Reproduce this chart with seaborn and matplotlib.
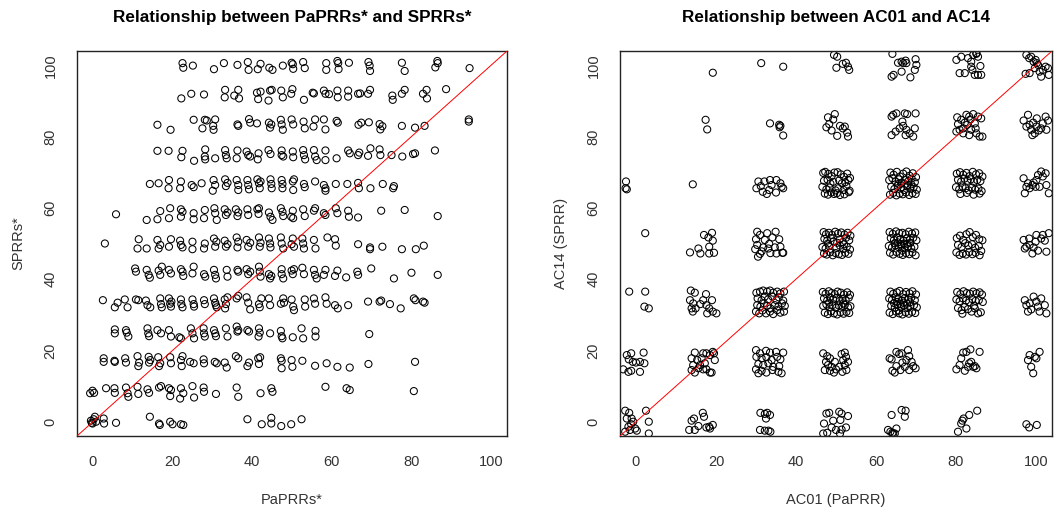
"""
plot.py

Two scatter plots of review scores: PaPRRs* vs SPRRs* and AC01 vs AC14,
each with a y = x reference line.
"""

import matplotlib
matplotlib.use("Agg")
import matplotlib.pyplot as plt
import seaborn as sns


# --------------------------------------------------
# Data: left panel, one row of points per SPRRs* level
# --------------------------------------------------

paprr_100 = [22.5, 22.7, 25.1, 30.4, 32.9, 36.3, 38.9, 39.1, 41.4, 42.1, 44.3, 45.1, 47.7, 49.9, 50.2, 50.3, 52.8,
             53.2, 58.6, 58.6, 61.4, 61.6, 61.7, 64.3, 69.2, 69.5, 69.6, 77.6, 78.3, 86.0, 86.5, 86.6, 94.6]
sprr_100 = [100.6, 99.3, 99.9, 98.9, 100.6, 100.1, 100.9, 98.7, 98.9, 100.4, 99.3, 98.7, 99.9, 100.7, 100.3, 99.0,
            100.9, 99.2, 100.6, 98.7, 101.2, 100.6, 98.9, 100.7, 100.9, 99.9, 98.4, 100.7, 98.4, 99.4, 101.2, 100.6, 99.2]

paprr_92 = [22.2, 24.7, 27.9, 33.2, 33.1, 35.5, 36.5, 36.7, 41.2, 41.5, 42.1, 44.1, 44.5, 44.9, 47.3, 47.7, 49.8, 50.1,
            53.0, 55.2, 55.5, 58.0, 58.4, 59.3, 61.4, 61.5, 64.1, 64.1, 66.6, 67.1, 69.1, 69.6, 75.2, 75.3, 77.6, 78.3,
            82.9, 83.8, 83.9, 88.7]
sprr_92 = [90.7, 92.0, 91.8, 93.1, 91.0, 91.5, 93.1, 90.7, 92.3, 90.5, 92.6, 90.1, 92.9, 93.1, 92.9, 91.0, 92.0, 93.3,
           90.3, 92.3, 92.1, 92.9, 92.0, 91.9, 92.9, 91.0, 92.9, 91.2, 92.0, 92.1, 92.0, 93.1, 91.5, 90.3, 92.0, 93.1,
           92.0, 93.1, 90.7, 93.3]

paprr_83 = [16.2, 19.5, 25.3, 27.5, 28.1, 28.6, 30.2, 30.3, 30.7, 36.3, 36.5, 39.2, 39.5, 41.2, 44.2, 44.5, 44.8, 47.2,
            47.4, 47.7, 49.9, 50.3, 52.9, 53.2, 55.4, 55.8, 58.0, 58.4, 61.2, 61.5, 66.7, 67.4, 69.3, 72.0, 72.2, 72.7,
            77.6, 80.9, 83.3, 94.4, 94.4]
sprr_83 = [83.3, 81.9, 84.7, 82.3, 84.7, 84.5, 83.0, 81.9, 84.8, 83.4, 83.0, 84.9, 83.9, 83.7, 83.9, 82.5, 83.4, 84.7,
           83.4, 81.9, 84.8, 83.4, 84.2, 82.3, 82.8, 84.8, 84.8, 82.0, 84.4, 83.9, 83.3, 83.9, 84.0, 83.5, 82.0, 82.9,
           83.0, 82.5, 83.0, 84.8, 84.2]

paprr_75 = [16.2, 19.0, 22.5, 22.2, 25.4, 28.2, 28.1, 28.2, 30.7, 33.2, 33.4, 33.6, 36.3, 36.1, 38.6, 39.0, 39.5, 41.6,
            41.4, 44.1, 44.6, 47.4, 47.4, 47.8, 50.2, 50.3, 52.8, 53.0, 53.3, 55.5, 55.8, 56.2, 58.4, 58.4, 61.2, 64.1,
            64.5, 66.6, 66.9, 69.1, 69.7, 72.0, 72.2, 75.0, 77.7, 80.4, 80.9, 85.9]
sprr_75 = [76.0, 76.0, 76.0, 74.2, 73.2, 76.4, 74.4, 73.6, 73.9, 76.2, 74.8, 73.9, 76.1, 73.9, 75.8, 74.8, 74.4, 75.3,
           73.6, 76.2, 75.1, 76.1, 74.8, 74.4, 75.8, 74.2, 76.2, 74.8, 73.6, 76.2, 74.4, 73.4, 76.1, 73.4, 73.9, 76.1,
           75.3, 74.8, 75.5, 74.6, 76.7, 76.4, 74.8, 74.8, 74.4, 75.1, 75.3, 76.1]

paprr_67 = [14.3, 16.5, 19.1, 19.0, 22.1, 21.9, 24.8, 25.3, 27.3, 30.3, 30.1, 30.7, 33.2, 33.4, 33.8, 36.1, 36.5, 36.5,
            38.8, 39.0, 39.2, 41.3, 41.7, 42.1, 41.9, 44.6, 44.8, 44.9, 47.4, 47.6, 47.6, 50.2, 50.3, 50.5, 53.0, 53.2,
            55.8, 58.0, 58.4, 58.4, 61.0, 63.9, 66.6, 66.8, 69.7, 72.8, 75.6, 75.4]
sprr_67 = [66.7, 66.9, 67.8, 65.5, 67.4, 65.5, 66.4, 65.8, 66.9, 67.8, 64.8, 66.4, 68.0, 66.1, 67.0, 67.8, 66.4, 65.0,
           67.8, 66.4, 65.2, 68.0, 66.9, 67.4, 65.5, 68.0, 66.7, 65.5, 67.8, 66.7, 65.5, 67.4, 65.0, 68.0, 66.7, 65.8,
           67.4, 66.4, 65.5, 64.8, 66.7, 66.7, 67.0, 65.5, 65.5, 66.7, 66.1, 65.5]

paprr_58 = [5.8, 13.5, 16.2, 16.9, 19.1, 19.4, 22.1, 22.1, 22.5, 25.3, 25.3, 28.1, 27.9, 30.5, 30.7, 31.1, 33.1, 33.4,
            33.8, 35.9, 36.3, 36.5, 38.8, 39.0, 41.3, 41.6, 41.7, 44.2, 44.6, 45.1, 47.2, 47.6, 47.8, 49.8, 50.2, 50.3,
            52.8, 53.2, 55.5, 55.8, 58.0, 58.4, 61.0, 61.4, 64.1, 64.3, 66.6, 72.4, 78.3, 86.6]
sprr_58 = [58.2, 56.6, 56.8, 59.1, 57.1, 59.9, 59.6, 57.5, 58.9, 58.5, 56.8, 59.4, 57.1, 59.9, 58.5, 56.6, 59.6, 58.0,
           58.7, 59.6, 57.7, 58.7, 59.6, 58.0, 59.6, 58.3, 59.9, 58.7, 57.5, 56.6, 59.9, 58.9, 57.7, 57.5, 59.2, 57.1,
           59.6, 57.7, 59.2, 59.9, 58.5, 58.0, 59.9, 58.5, 59.2, 57.5, 57.3, 59.2, 59.4, 57.7]

paprr_50 = [3.0, 11.2, 11.5, 13.5, 16.2, 16.5, 16.9, 19.1, 19.6, 22.1, 22.5, 21.9, 25.0, 25.0, 27.9, 28.1, 30.4, 30.7,
            31.0, 33.1, 33.4, 33.8, 36.1, 36.3, 36.5, 38.6, 39.0, 39.5, 41.7, 41.9, 42.1, 44.2, 44.5, 44.6, 47.2, 47.4,
            47.8, 49.9, 50.2, 50.5, 52.6, 52.8, 53.0, 55.5, 55.9, 58.9, 60.8, 61.0, 66.6, 69.6, 69.6, 72.7, 77.6, 81.1,
            83.1]
sprr_50 = [50.0, 48.6, 51.2, 48.6, 51.0, 48.6, 49.6, 49.1, 51.2, 49.6, 48.9, 50.8, 50.5, 48.4, 48.6, 50.0, 51.4, 49.1,
           50.5, 50.8, 49.1, 49.8, 51.7, 48.9, 50.5, 51.0, 49.1, 50.2, 51.7, 49.1, 50.2, 51.4, 50.0, 48.9, 51.7, 50.0,
           48.6, 49.8, 51.4, 49.1, 51.4, 50.0, 48.6, 51.0, 48.6, 51.7, 51.2, 49.4, 49.8, 48.9, 48.4, 49.1, 48.4, 48.4,
           49.4]

paprr_42 = [10.6, 10.8, 13.5, 14.0, 14.3, 16.5, 16.9, 17.3, 19.1, 19.6, 22.1, 22.5, 22.7, 25.3, 25.0, 27.9, 28.2, 30.4,
            30.7, 30.9, 33.6, 33.8, 36.3, 36.5, 38.6, 39.0, 39.5, 41.7, 41.9, 42.1, 44.2, 44.5, 44.8, 47.4, 47.4, 47.8,
            49.9, 50.2, 50.5, 52.6, 53.0, 55.5, 55.8, 56.2, 58.0, 58.4, 60.8, 61.4, 63.6, 66.4, 66.6, 69.9, 75.6, 80.0,
            86.6]
sprr_42 = [43.0, 42.1, 42.6, 41.2, 40.4, 42.4, 41.2, 43.5, 42.6, 41.6, 42.8, 42.1, 40.9, 43.5, 41.6, 41.4, 40.7, 42.6,
           41.2, 40.2, 42.6, 40.7, 42.6, 42.1, 42.8, 41.4, 42.1, 43.5, 42.1, 40.7, 41.4, 40.2, 40.9, 42.8, 41.4, 40.2,
           42.4, 41.4, 42.8, 43.2, 41.4, 42.6, 41.2, 40.2, 41.2, 42.6, 40.9, 42.4, 40.5, 42.1, 41.2, 43.0, 40.2, 41.8,
           41.2]

paprr_33 = [2.5, 5.5, 6.2, 8.0, 8.7, 10.8, 11.4, 13.3, 13.7, 14.4, 16.9, 17.1, 17.3, 19.1, 19.4, 19.6, 19.7, 22.1, 22.2,
            22.5, 25.0, 25.3, 25.4, 27.9, 28.1, 30.4, 30.7, 30.9, 31.1, 33.1, 33.4, 33.8, 33.2, 36.1, 36.5, 38.6, 39.0,
            39.5, 41.7, 41.9, 42.3, 44.2, 44.5, 47.2, 47.8, 48.0, 49.9, 50.3, 50.5, 53.2, 53.3, 55.5, 55.8, 58.4, 58.7,
            60.8, 61.5, 64.1, 69.1, 72.0, 72.4, 74.6, 77.3, 80.6, 81.0, 82.9, 83.3]
sprr_33 = [34.1, 32.1, 33.4, 34.3, 32.1, 34.3, 34.1, 34.0, 32.7, 32.1, 34.6, 33.0, 32.1, 34.6, 33.1, 32.3, 33.7, 34.3,
           33.0, 32.1, 34.3, 33.0, 32.3, 34.1, 33.0, 34.6, 33.4, 32.7, 32.1, 34.3, 33.0, 34.9, 31.8, 34.6, 35.3, 34.9,
           33.4, 31.5, 33.0, 32.1, 34.6, 34.6, 32.7, 33.1, 34.6, 33.4, 34.3, 32.3, 31.3, 34.3, 32.3, 34.6, 33.1, 34.9,
           33.1, 32.7, 31.8, 32.7, 33.7, 33.7, 34.0, 33.0, 31.8, 34.6, 34.1, 33.7, 33.4]

paprr_25 = [5.5, 5.5, 8.3, 8.5, 8.9, 13.7, 13.9, 14.1, 16.2, 17.1, 19.1, 19.6, 21.7, 22.1, 24.6, 25.0, 25.4, 27.8, 27.9,
            28.1, 30.4, 30.7, 30.9, 33.4, 33.8, 36.1, 36.3, 36.5, 38.8, 39.2, 41.7, 41.9, 41.6, 44.5, 47.2, 47.4, 47.6,
            50.2, 52.4, 52.8, 55.9, 55.9, 69.4]
sprr_25 = [25.9, 24.8, 25.7, 25.0, 23.9, 26.2, 24.8, 24.0, 25.7, 24.8, 25.7, 23.9, 23.7, 23.4, 26.2, 24.8, 23.4, 26.2,
           24.8, 23.9, 25.7, 24.8, 24.0, 26.2, 23.9, 26.7, 25.3, 25.7, 25.7, 25.3, 26.2, 25.0, 23.9, 24.8, 25.5, 24.0,
           23.4, 23.7, 26.2, 23.4, 25.5, 23.9, 24.6]

paprr_17 = [2.7, 2.7, 5.4, 5.5, 8.1, 8.3, 11.2, 11.4, 11.6, 14.0, 14.1, 14.4, 16.4, 16.6, 16.9, 19.4, 19.6, 22.1, 22.3,
            22.5, 24.4, 25.3, 27.8, 27.9, 30.6, 31.1, 33.1, 33.6, 35.9, 36.5, 38.8, 39.2, 41.5, 41.7, 42.0, 47.2, 47.4,
            47.4, 49.9, 50.1, 52.6, 55.8, 58.7, 61.4, 64.5, 69.2, 80.9]
sprr_17 = [17.8, 16.8, 17.1, 16.8, 17.8, 16.6, 18.4, 15.6, 16.6, 18.2, 16.6, 17.3, 18.1, 15.6, 16.4, 18.1, 16.4, 17.3,
           15.6, 18.4, 16.8, 16.4, 17.5, 16.4, 16.8, 16.4, 16.6, 15.2, 18.4, 17.8, 15.6, 16.6, 17.8, 16.2, 18.1, 17.8,
           17.1, 15.0, 17.3, 15.4, 17.1, 15.7, 16.4, 15.4, 15.2, 16.2, 16.8]

paprr_8 = [-0.7, -0.1, 0.3, 3.3, 5.4, 5.5, 8.3, 8.7, 8.9, 11.2, 11.4, 13.7, 14.1, 16.6, 17.1, 19.1, 19.4, 19.6, 22.1,
           21.9, 22.7, 25.0, 25.4, 27.8, 27.9, 30.9, 36.1, 36.5, 42.1, 44.8, 45.1, 58.4, 63.7, 64.5, 80.6]
sprr_8 = [8.0, 8.7, 8.1, 9.4, 9.4, 8.1, 9.6, 8.0, 7.0, 9.8, 7.8, 9.1, 8.1, 9.6, 10.0, 9.4, 7.2, 8.9, 9.4, 6.5, 8.0,
          10.0, 6.8, 9.6, 8.4, 7.8, 9.6, 7.0, 8.0, 9.4, 8.4, 9.8, 9.4, 8.9, 8.6]

paprr_0 = [-0.5, -0.3, 0.2, 0.5, 0.8, -0.1, 2.7, 2.8, 5.8, 14.3, 16.6, 16.8, 19.4, 20.0, 22.1, 22.7, 38.8, 42.4, 44.8,
           44.8, 47.3, 49.8, 52.4]
sprr_0 = [0.3, -0.3, 0.7, 1.4, 0.0, -0.5, 0.9, -0.5, -0.3, 1.4, -0.5, -0.9, 0.0, -0.7, -0.7, -0.9, 0.7, -0.7, 1.1,
          -0.5, -1.2, -0.7, 0.7]


# --------------------------------------------------
# Data: right panel, one column of clusters per AC01 level
# --------------------------------------------------

ac01_c0 = [-2.5, -2.3, -2.6, 2.3, -1.7, 2.3, 2.1, 3.2,
           -2.3, -1.2, -1.8, -0.8, 0.0, 1.0, 1.9, 2.1, -3.2, -1.9, -1.2, 1.0,
           -2.7, -1.7, -2.3, -1.1, -0.7, -1.9, -1.5, -0.2, 0.2, -2.7, 2.5, 3.2, 3.2, -1.2]
ac14_c0 = [67.4, 65.2, 65.5, 52.9, 36.5, 36.5, 32.3, 31.8,
           18.7, 19.2, 17.5, 16.8, 16.6, 16.8, 19.4, 16.4, 14.7, 14.0, 14.3, 14.0,
           3.1, 2.5, 0.9, 0.9, 0.0, -1.4, -2.3, -1.9, -2.5, -2.8, 3.1, 0.0, -3.3, -0.7]

ac01_c17 = [19.2, 17.4, 17.8, 14.2,
            13.5, 15.6, 16.1, 17.0, 18.1, 18.3, 19.0, 19.2, 18.3, 19.5,
            13.7, 14.7, 13.5, 14.3, 14.2, 14.9, 16.1, 16.8, 17.5, 17.6, 18.3, 19.0, 17.8, 19.2, 20.1, 13.9,
            13.9, 14.7, 14.3, 13.9, 14.7, 15.6, 16.4, 16.8, 17.2, 17.6, 18.5, 19.2, 19.5, 18.5, 18.9, 19.7, 17.6, 15.3,
            16.0, 16.8,
            13.3, 14.7, 13.9, 14.5, 15.6, 16.7, 17.0, 17.6, 18.5, 19.2, 18.3]
ac14_c17 = [97.9, 84.7, 82.0, 66.6,
            47.5, 48.6, 47.2, 52.4, 51.7, 49.1, 53.0, 50.8, 47.2, 47.4,
            36.8, 36.2, 34.1, 33.2, 30.9, 31.8, 33.0, 34.1, 35.8, 32.7, 31.8, 34.1, 30.4, 30.9, 30.4, 31.8,
            17.8, 19.4, 15.9, 14.5, 13.8, 15.0, 17.8, 14.7, 16.4, 19.2, 18.7, 19.6, 19.2, 13.8, 13.8, 17.3, 14.7, 17.3,
            15.9, 19.2,
            -2.3, -2.3, 0.3, 0.9, -1.2, 2.5, 1.4, -1.6, -1.9, -0.9, -1.4]

ac01_c33 = [31.3, 36.8, 33.5, 35.8, 35.9, 36.1, 36.8,
            30.6, 30.1, 31.2, 31.7, 32.1, 32.7, 33.5, 33.9, 35.0, 35.1, 36.1, 36.4, 36.8, 33.3,
            30.3, 31.0, 30.0, 30.3, 29.8, 31.0, 30.5, 31.8, 32.2, 32.8, 33.3, 33.6, 34.1, 34.7, 35.1, 35.8, 36.1, 36.6,
            34.9, 31.4, 33.1, 36.8,
            30.1, 31.0, 31.8, 32.8, 33.5, 34.3, 35.3, 36.1, 37.0,
            30.4, 31.4, 32.2, 33.0, 34.1, 35.1, 35.7, 36.8,
            30.3, 31.1, 32.0, 32.8, 33.6, 34.7, 35.6, 36.5, 37.2,
            30.0, 30.8, 31.6, 32.5, 33.5, 34.3, 35.3, 36.1, 37.0,
            30.0, 31.0, 32.5, 33.5, 35.0, 36.8, 30.1, 31.4, 32.6, 33.9, 35.3, 36.1, 30.6, 31.8, 33.1, 34.3, 35.8, 30.0,
            31.4, 32.6, 34.1, 35.6, 36.4, 30.6,
            31.1, 32.2, 32.8, 33.5, 32.5, 31.0, 32.2, 33.1, 33.6]
ac14_c33 = [100.6, 99.6, 83.7, 83.3, 82.6, 83.0, 80.3,
            67.4, 65.5, 66.1, 64.5, 67.4, 63.9, 67.8, 66.4, 64.3, 67.8, 66.9, 65.9, 65.5, 65.0,
            53.3, 52.4, 51.2, 49.6, 48.4, 47.1, 46.3, 48.9, 51.0, 52.9, 49.9, 47.3, 51.7, 48.9, 47.2, 51.2, 49.1, 47.4,
            53.3, 47.8, 48.6, 47.4,
            36.2, 36.5, 36.8, 36.5, 36.8, 36.2, 36.5, 36.0, 36.5,
            34.6, 34.1, 35.1, 34.3, 35.1, 34.1, 34.9, 34.0,
            32.7, 32.3, 33.2, 32.5, 31.8, 32.7, 32.3, 33.2, 32.5,
            30.9, 30.4, 31.2, 30.4, 30.9, 30.2, 31.3, 30.6, 30.9,
            20.1, 19.2, 19.9, 19.4, 19.6, 19.4, 18.2, 17.8, 18.1, 17.3, 18.2, 17.5, 16.2, 15.9, 16.4, 15.4, 15.6, 14.7,
            14.3, 13.8, 14.5, 14.0, 13.6, 13.6,
            2.5, 2.2, 2.5, 1.9, 0.9, -2.3, -2.5, -2.5, -2.8]

ac01_c50 = [49.5, 50.3, 50.1, 51.7, 52.5, 53.0, 53.3,
            48.0, 49.7, 49.3, 47.6, 48.3, 48.9, 50.3, 51.0, 51.7, 52.2, 52.8, 53.0,
            46.8, 47.3, 48.1, 48.9, 49.6, 50.4, 51.2, 52.0, 52.8, 53.5,
            47.0, 47.9, 48.6, 49.3, 50.8, 51.5, 52.3, 53.1,
            46.6, 47.6, 48.4, 49.9, 50.6, 51.9, 52.6, 53.4,
            47.2, 48.0, 48.8, 49.5, 50.2, 51.0, 52.1, 53.2,
            46.9, 47.5, 48.2, 49.0, 49.8, 50.5, 51.3, 52.1, 52.9, 53.6,
            47.1, 47.8, 48.7, 49.4, 50.9, 51.7, 52.5, 53.3,
            46.6, 47.4, 48.3, 50.1, 51.0, 51.8, 52.7, 53.5,
            47.0, 47.7, 48.5, 49.2, 49.9, 50.7, 51.5, 52.3, 53.1, 48.0, 50.3, 52.0,
            46.7, 47.4, 48.2, 48.9, 49.7, 50.4, 51.2, 52.0, 52.8, 53.5,
            47.0, 47.8, 48.5, 49.3, 50.1, 50.9, 51.6, 52.4, 53.2,
            46.8, 47.6, 48.4, 49.1, 50.0, 50.7, 51.4, 52.2, 53.0, 53.6,
            47.2, 48.0, 48.7, 49.5, 50.3, 51.1, 51.9, 52.6, 53.3, 48.3, 51.8,
            46.8, 47.8, 47.5, 48.5, 48.0, 48.9, 47.2, 48.5, 49.5, 50.0, 51.4, 52.2, 52.5, 51.8, 53.0, 52.2, 52.6, 51.6,
            50.8, 49.7,
            47.6, 48.3, 50.8, 51.4, 53.0, 47.0, 49.3, 51.1, 48.9, 50.0, 51.4, 52.5, 46.8, 47.8, 51.0]
ac14_c50 = [102.9, 102.4, 99.3, 100.4, 100.7, 99.6, 98.7,
            85.4, 86.3, 84.8, 82.6, 83.5, 81.7, 80.2, 83.0, 82.3, 82.8, 81.1, 80.0,
            69.8, 70.1, 69.5, 68.9, 69.9, 70.0, 69.4, 68.7, 69.6, 68.4,
            67.6, 67.9, 66.8, 67.3, 67.7, 66.9, 67.2, 67.8,
            65.9, 65.2, 65.7, 64.9, 65.5, 65.0, 66.1, 64.8,
            64.0, 63.7, 64.3, 63.9, 64.1, 63.6, 63.8, 64.4,
            53.2, 52.6, 53.0, 52.4, 53.3, 52.8, 53.1, 52.5, 53.0, 52.2,
            51.3, 50.8, 51.5, 50.6, 51.1, 50.4, 51.6, 50.9,
            49.0, 48.6, 49.3, 48.8, 49.4, 48.5, 49.1, 48.3,
            47.2, 46.9, 47.5, 46.7, 47.3, 47.0, 46.8, 47.4, 47.1, 50.0, 50.2, 49.8,
            36.4, 35.9, 36.6, 36.1, 35.8, 36.5, 36.2, 35.7, 36.3, 35.6,
            34.6, 34.0, 34.9, 34.3, 34.7, 33.9, 34.5, 34.1, 34.8,
            32.5, 32.9, 32.2, 32.7, 32.0, 32.6, 32.3, 32.8, 32.1, 32.4,
            30.6, 30.2, 30.9, 30.4, 30.1, 30.7, 30.3, 30.8, 30.5, 33.4, 33.2,
            19.2, 18.4, 16.8, 17.8, 15.9, 15.4, 14.5, 14.3, 13.8, 14.7, 19.0, 19.4, 18.2, 17.3, 16.8, 15.9, 14.5, 14.0,
            15.4, 16.8,
            2.3, 2.5, 2.8, 2.3, 1.6, -0.5, 0.3, 0.5, -1.6, -2.3, -2.2, -1.6, -3.3, -3.1, -3.3]

ac01_c67 = [64.1, 63.9, 64.4, 65.5, 66.4, 66.8, 67.6, 67.4, 66.4, 68.6, 69.9, 70.1, 69.7,
            63.9, 64.3, 65.1, 67.2, 67.8, 69.9, 63.9, 64.9, 65.9, 66.6, 66.8, 67.6, 68.4, 69.3, 69.7, 67.4,
            63.6, 64.4, 65.2, 66.0, 66.8, 67.6, 68.4, 69.2, 70.0,
            63.3, 64.1, 64.9, 65.7, 66.5, 67.3, 68.1, 68.9, 69.7,
            63.8, 64.6, 65.4, 66.2, 67.0, 67.8, 68.6, 69.4, 70.2,
            63.5, 64.3, 65.1, 65.9, 66.7, 67.5, 68.3, 69.1, 69.9, 65.6, 67.9, 66.3, 68.8,
            63.4, 64.2, 65.0, 65.8, 66.6, 67.4, 68.2, 69.0, 69.8,
            63.7, 64.5, 65.3, 66.1, 66.9, 67.7, 68.5, 69.3, 70.1,
            63.2, 64.0, 64.8, 65.6, 66.4, 67.2, 68.0, 68.8, 69.6,
            63.5, 64.3, 65.1, 65.9, 66.7, 67.5, 68.3, 69.1, 69.9,
            64.7, 65.5, 66.2, 67.0, 67.8, 68.6, 66.5,
            63.6, 64.3, 65.2, 65.9, 66.8, 67.5, 68.4, 69.1, 70.0,
            63.3, 64.0, 64.9, 65.6, 66.5, 67.2, 68.1, 68.8, 69.7,
            63.8, 64.7, 65.4, 66.3, 67.0, 67.9, 68.6, 69.5, 70.2,
            63.4, 64.2, 65.0, 65.8, 66.6, 67.4, 68.2, 69.0, 69.8,
            64.5, 65.3, 66.1, 66.9, 67.7, 68.5, 65.7,
            63.4, 63.9, 65.1, 65.8, 66.4, 68.0, 68.3, 68.9, 67.6, 66.6, 65.1, 64.1, 64.7, 66.1, 67.2, 68.3, 69.3, 69.9,
            63.9, 66.4, 67.4, 67.2, 63.0, 63.6, 64.3, 64.7, 65.1, 64.1]
ac14_c67 = [103.2, 96.8, 97.3, 100.7, 101.0, 100.6, 100.6, 101.3, 98.2, 96.6, 101.7, 100.1, 98.7,
            85.6, 86.1, 86.5, 86.5, 86.3, 86.5, 80.4, 81.4, 82.3, 84.2, 83.0, 81.9, 80.9, 80.0, 82.3, 80.4,
            69.9, 69.3, 70.1, 68.8, 69.6, 70.2, 69.0, 69.7, 68.6,
            67.8, 68.3, 67.4, 68.0, 67.1, 67.9, 67.5, 68.2, 67.2,
            65.9, 65.3, 66.2, 65.6, 65.0, 66.0, 65.4, 65.8, 65.1,
            63.7, 64.2, 63.5, 64.0, 63.8, 64.3, 63.6, 64.1, 63.9, 66.7, 66.4, 66.9, 66.6,
            53.2, 52.7, 53.4, 52.9, 53.0, 52.6, 53.3, 52.8, 53.1,
            51.5, 51.0, 51.7, 51.2, 50.8, 51.4, 51.1, 51.6, 50.9,
            49.3, 48.9, 49.5, 49.0, 49.4, 48.8, 49.2, 48.7, 49.1,
            47.4, 46.9, 47.6, 47.1, 46.8, 47.3, 47.0, 47.5, 46.7,
            50.1, 50.3, 49.8, 50.0, 49.9, 50.2, 48.0,
            36.5, 35.9, 36.3, 36.7, 35.8, 36.4, 36.0, 36.6, 35.7,
            34.6, 34.2, 34.9, 34.4, 34.0, 34.7, 34.3, 34.8, 34.1,
            32.5, 32.0, 32.8, 32.3, 32.6, 31.9, 32.4, 32.7, 32.1,
            30.6, 30.2, 30.9, 30.4, 30.1, 30.7, 30.3, 30.8, 30.5,
            33.3, 33.6, 33.0, 33.4, 33.1, 33.5, 31.2,
            17.8, 17.5, 19.6, 19.0, 19.2, 20.1, 18.4, 16.8, 17.3, 16.6, 15.6, 14.3, 13.8, 14.5, 15.4, 14.5, 15.6, 15.0,
            1.9, 3.3, 3.1, 1.4, -2.3, -2.8, -3.3, -3.3, -1.9, -3.1]

ac01_c83 = [80.1, 81.3, 80.9, 82.2, 83.0, 83.8, 84.3, 85.1, 85.5, 84.1, 84.7, 85.5, 86.3, 86.1, 83.8, 85.1,
            80.3, 80.5, 80.1, 81.3, 81.8, 81.8, 82.6, 82.8, 83.3, 83.6, 83.8, 84.3, 84.7, 85.1, 85.5, 85.9, 86.3, 86.6,
            82.2, 84.9, 80.9, 83.3,
            80.2, 81.0, 81.8, 82.6, 83.4, 84.2, 85.0, 85.8, 86.6,
            80.5, 81.3, 82.1, 82.9, 83.7, 84.5, 85.3, 86.1,
            80.0, 80.8, 81.6, 82.4, 83.2, 84.0, 84.8, 85.6, 86.4,
            81.1, 82.7, 84.4, 85.9,
            80.2, 81.0, 81.8, 82.6, 83.4, 84.2, 85.0, 85.8, 86.6,
            80.5, 81.4, 82.3, 83.1, 84.0, 84.8, 85.7,
            80.1, 80.9, 81.7, 82.5, 83.3, 84.1, 84.9, 85.9, 86.3,
            80.3, 81.1, 81.9, 82.7, 83.5, 84.3, 85.1, 85.9, 86.5,
            80.1, 80.9, 81.7, 82.5, 83.3, 84.1, 84.9, 85.7, 86.7,
            80.5, 81.4, 82.2, 83.0, 83.9, 84.7, 85.5, 86.2, 81.6, 84.5,
            80.1, 80.9, 81.3, 81.8, 82.2, 82.6, 83.0, 83.6, 83.8, 84.3, 84.7, 85.1, 85.9, 83.3,
            80.5, 81.3, 81.6, 81.9, 82.6, 83.3, 85.3]
ac14_c83 = [101.5, 102.4, 97.8, 97.8, 102.0, 101.0, 102.9, 103.4, 102.4, 98.7, 97.3, 97.3, 97.3, 99.8, 99.6, 103.2,
            85.4, 83.5, 81.4, 84.7, 82.3, 80.9, 86.1, 83.3, 80.4, 84.8, 81.9, 86.3, 83.7, 80.9, 85.6, 80.0, 85.1, 80.0,
            83.9, 82.3, 81.9, 85.6,
            69.6, 70.0, 69.3, 69.8, 68.9, 70.1, 69.4, 69.7, 68.8,
            67.9, 67.4, 68.2, 67.6, 68.0, 67.3, 67.8, 67.5,
            65.8, 65.2, 66.0, 65.5, 64.9, 65.7, 65.1, 65.4, 64.7,
            63.9, 64.2, 63.7, 64.0,
            51.5, 52.2, 51.0, 52.6, 53.2, 51.8, 52.4, 51.2, 50.9,
            49.6, 49.0, 50.1, 49.4, 49.8, 48.8, 49.3,
            47.5, 46.8, 47.2, 46.9, 47.6, 47.0, 47.4, 46.7, 47.9,
            36.4, 35.8, 36.6, 36.1, 35.9, 36.5, 36.0, 36.3, 35.7,
            34.3, 33.8, 34.6, 34.0, 33.5, 34.4, 33.9, 34.1, 33.6,
            31.9, 31.3, 32.2, 31.6, 30.9, 31.8, 30.4, 30.7, 30.3, 32.5,
            14.7, 15.9, 17.8, 19.4, 14.3, 19.6, 15.4, 20.3, 16.8, 15.4, 15.6, 15.0, 19.6, 16.4,
            -2.8, -0.5, 0.3, 0.9, -1.9, 1.9, 3.1]

ac01_c100 = [97.6, 98.3, 98.8, 97.4, 98.4, 99.4, 99.9, 100.2, 100.5, 101.3, 101.7, 102.4, 103.0, 103.2, 100.9, 99.7,
             96.9, 98.0, 98.4, 98.8, 99.3, 99.7, 100.1, 100.2, 100.7, 101.3, 102.4, 103.0, 102.6, 101.7, 99.1, 97.6,
             96.9, 97.2, 97.6, 98.4, 99.1, 99.4, 100.1, 100.5, 100.9, 101.3, 101.7, 102.4, 102.6, 103.2, 98.0, 99.9,
             96.9, 97.2, 97.6, 98.3, 99.1, 99.4, 100.1, 100.5, 101.3, 101.7, 102.2, 102.6, 103.2, 99.9, 98.4,
             97.2, 97.6, 98.0, 98.8, 99.4, 100.1, 100.5, 100.9, 102.2, 102.6, 98.4, 101.3,
             98.0, 98.4, 98.8, 99.3, 99.7, 100.1, 100.9,
             97.6, 98.3, 100.2]
ac14_c100 = [102.9, 102.0, 102.4, 97.6, 97.8, 101.0, 101.5, 100.6, 100.1, 96.8, 98.7, 99.6, 99.2, 97.3, 98.2, 99.2,
             84.5, 86.1, 83.3, 81.9, 83.9, 80.9, 82.8, 85.1, 81.7, 82.3, 85.6, 84.5, 81.9, 83.7, 80.4, 82.8,
             68.3, 64.1, 65.9, 65.5, 66.4, 67.1, 67.8, 69.2, 65.9, 70.2, 68.8, 69.7, 66.4, 64.1, 66.9, 65.9,
             51.0, 48.6, 49.1, 51.4, 47.2, 48.9, 52.4, 48.0, 51.4, 52.4, 50.8, 47.7, 52.9, 50.5, 49.6,
             34.1, 32.7, 30.9, 31.5, 35.1, 33.7, 32.3, 30.9, 32.7, 30.4, 33.2, 34.6,
             17.3, 18.7, 15.4, 13.6, 18.2, 17.8, 19.6,
             -0.7, -1.6, -0.9]

ticks = [0, 20, 40, 60, 80, 100]
axis_limits = (-4, 104)


# --------------------------------------------------
# Style
# --------------------------------------------------

sns.set_style("white")
plt.rcParams["font.family"] = ["Liberation Sans", "DejaVu Sans"]
label_color = "#333333"


def draw_panel(ax, x, y, title, xlabel, ylabel):
    """
    Open-circle scatter with a y = x reference line, framed like a base R plot.
    """
    sns.scatterplot(x=x, y=y, ax=ax, marker="o", s=26, facecolor="none",
                    edgecolor="black", linewidth=0.75, legend=False)
    ax.axline((0, 0), slope=1, color="red", linewidth=0.7, zorder=5)

    ax.set_xlim(*axis_limits)
    ax.set_ylim(*axis_limits)
    ax.set_xticks(ticks)
    ax.set_yticks(ticks)
    ax.tick_params(axis="both", direction="out", length=5, width=0.8, color="#222222",
                   labelsize=10.5, labelcolor=label_color, pad=9)
    for label in ax.get_yticklabels():
        label.set_rotation(90)
        label.set_va("center")

    for spine in ax.spines.values():
        spine.set_visible(True)
        spine.set_color("#222222")
        spine.set_linewidth(1.0)

    ax.set_title(title, fontsize=12.3, fontweight="bold", color="black", pad=21)
    ax.set_xlabel(xlabel, fontsize=10.5, color=label_color, labelpad=17)
    ax.set_ylabel(ylabel, fontsize=10.5, color=label_color, labelpad=13)


# --------------------------------------------------
# Figure
# --------------------------------------------------

fig = plt.figure(figsize=(10.59, 5.11), dpi=100)
ax_left = fig.add_axes([77 / 1059, 75 / 511, 430 / 1059, 385 / 511])
ax_right = fig.add_axes([620 / 1059, 75 / 511, 432 / 1059, 385 / 511])

paprr = (paprr_100 + paprr_92 + paprr_83 + paprr_75 + paprr_67 + paprr_58 + paprr_50
         + paprr_42 + paprr_33 + paprr_25 + paprr_17 + paprr_8 + paprr_0)
sprr = (sprr_100 + sprr_92 + sprr_83 + sprr_75 + sprr_67 + sprr_58 + sprr_50
        + sprr_42 + sprr_33 + sprr_25 + sprr_17 + sprr_8 + sprr_0)
ac01 = ac01_c0 + ac01_c17 + ac01_c33 + ac01_c50 + ac01_c67 + ac01_c83 + ac01_c100
ac14 = ac14_c0 + ac14_c17 + ac14_c33 + ac14_c50 + ac14_c67 + ac14_c83 + ac14_c100

draw_panel(ax_left, paprr, sprr, "Relationship between PaPRRs* and SPRRs*", "PaPRRs*", "SPRRs*")
draw_panel(ax_right, ac01, ac14, "Relationship between AC01 and AC14", "AC01 (PaPRR)", "AC14 (SPRR)")

fig.savefig("out.png", dpi=100)
